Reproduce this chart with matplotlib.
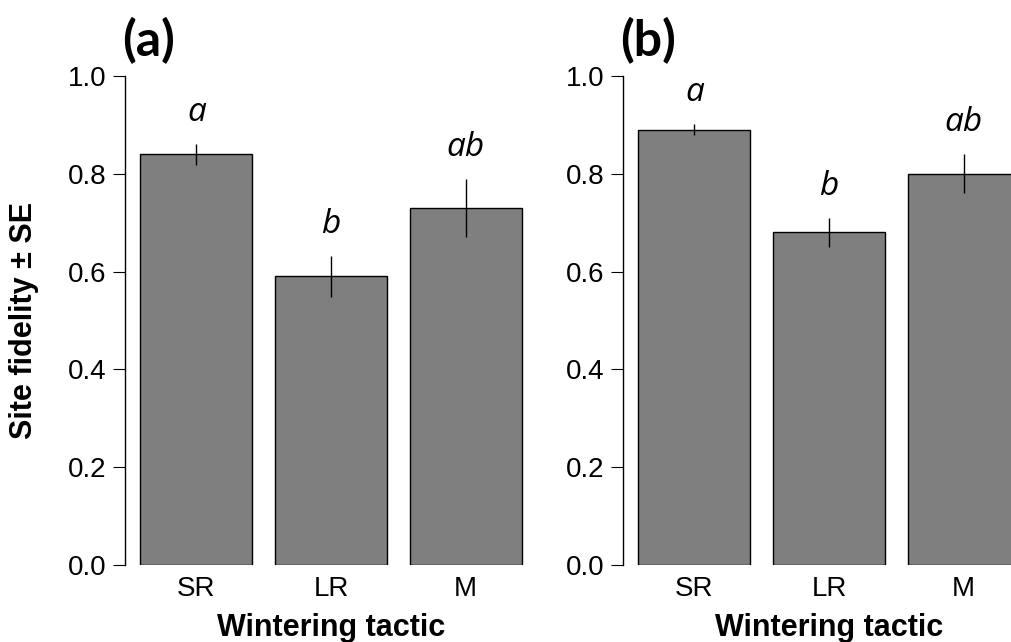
import matplotlib
matplotlib.use("Agg")
import matplotlib.pyplot as plt
import numpy as np

# ---- data ----
categories = ["SR", "LR", "M"]
means_a = [0.84, 0.59, 0.73]
se_a = [0.021, 0.042, 0.06]
letters_a = ["a", "b", "ab"]
means_b = [0.89, 0.68, 0.80]
se_b = [0.011, 0.03, 0.04]
letters_b = ["a", "b", "ab"]
yticks = [0.0, 0.2, 0.4, 0.6, 0.8, 1.0]
panel_labels = ["(a)", "(b)"]

W, H = 1012, 642
fig = plt.figure(figsize=(W / 100, H / 100), dpi=100)

bar_pos = np.array([0.7, 1.9, 3.1])
xlim = (0.064, 3.736)

def px(x, y, w, h):
    return [x / W, 1 - (y + h) / H, w / W, h / H]

axes_specs = [
    (px(125, 76, 412, 489), means_a, se_a, letters_a),
    (px(623, 76, 412, 489), means_b, se_b, letters_b),
]

tick_font = dict(family="Liberation Sans", size=20)
for i, (rect, m, s, lets) in enumerate(axes_specs):
    ax = fig.add_axes(rect)
    ax.bar(bar_pos, m, width=1.0, color="#7f7f7f", edgecolor="black",
           linewidth=1.0, zorder=2)
    for xp, mv, sv, lt in zip(bar_pos, m, s, lets):
        ax.plot([xp, xp], [mv - sv, mv + sv], color="black", lw=1.0,
                zorder=3, solid_capstyle="butt", clip_on=False)
        ax.text(xp, mv + sv + 0.047, lt, ha="center", va="baseline",
                fontsize=24, style="italic", family="Open Sans",
                clip_on=False)
    ax.set_xlim(*xlim)
    ax.set_ylim(0, 1.0)
    for sp in ["top", "right", "bottom"]:
        ax.spines[sp].set_visible(False)
    ax.spines["left"].set_linewidth(1.0)
    ax.set_yticks(yticks)
    ax.set_yticklabels([f"{v:.1f}" for v in yticks], **tick_font)
    ax.set_xticks(bar_pos)
    ax.set_xticklabels(categories, **tick_font)
    ax.tick_params(axis="y", length=8.5, width=0.8, pad=5)
    ax.tick_params(axis="x", length=0, pad=8)
    ax.patch.set_alpha(0)
    # panel label and x-axis label
    x0 = rect[0]
    fig.text(x0 - 3 / W, 1 - 56 / H, panel_labels[i], ha="left",
             va="baseline", fontsize=36, fontweight="bold", family="Lato")
    fig.text(x0 + 206 / W, 1 - 636 / H, "Wintering tactic", ha="center",
             va="baseline", fontsize=22, fontweight="bold",
             family="Liberation Sans")

fig.text(24 / W, 1 - 320 / H, "Site fidelity ± SE", rotation=90,
         ha="center", va="center", fontsize=22, fontweight="bold",
         family="Liberation Sans")

fig.savefig("out.png", dpi=100)
